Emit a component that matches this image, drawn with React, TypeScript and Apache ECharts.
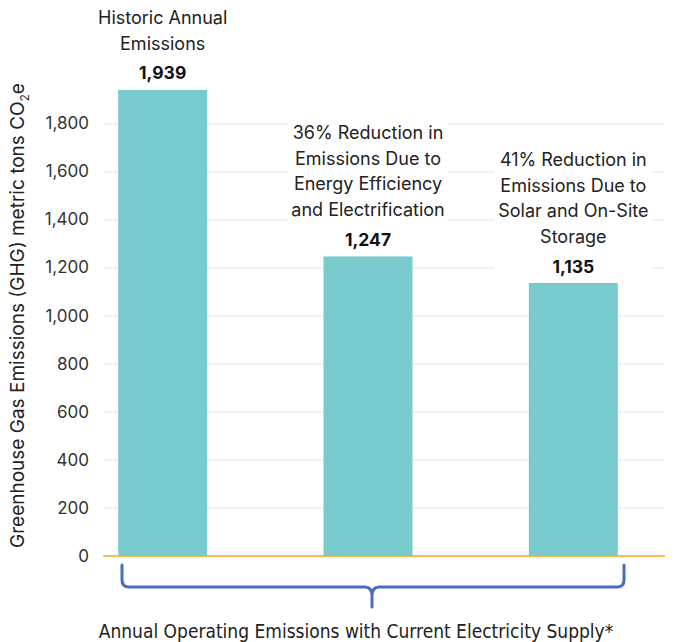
import React, { useEffect, useRef } from "react";
import * as echarts from "echarts";

const categories = ["Historic", "Efficiency", "Solar"];
const descriptions = [
  ["Historic Annual", "Emissions"],
  ["36% Reduction in", "Emissions Due to", "Energy Efficiency", "and Electrification"],
  ["41% Reduction in", "Emissions Due to", "Solar and On-Site", "Storage"],
];
const emissions = [1939, 1247, 1135];
const yTicks = [0, 200, 400, 600, 800, 1000, 1200, 1400, 1600, 1800];
const xTitle = "Annual Operating Emissions with Current Electricity Supply*";

const BRACKET =
  "M122 565 L122 580 Q122 587 129 587 L365 587 Q372 587 372 596 L372 607 M372 596 Q372 587 379 587 L617 587 Q624 587 624 580 L624 565";

let registered = false;

export default function App() {
  const ref = useRef<HTMLDivElement>(null);
  useEffect(() => {
    if (!ref.current) return;
    if (!registered) {
      echarts.graphic.registerShape("bracket", echarts.graphic.extendPath(BRACKET, {}));
      registered = true;
    }
    const chart = echarts.init(ref.current, null, { renderer: "svg" });
    const yMax = 2000;
    chart.setOption({
      animation: false,
      backgroundColor: "#ffffff",
      grid: { left: 100.7, right: 15.7, top: 75.3, bottom: 86.3 },
      xAxis: {
        type: "value",
        min: -0.2857,
        max: 2.443,
        axisLine: { show: true, onZero: false, lineStyle: { color: "#FDB94E", width: 2 } },
        axisTick: { show: false },
        axisLabel: { show: false },
        splitLine: { show: false },
      },
      yAxis: {
        type: "value",
        min: 0,
        max: yMax,
        interval: 200,
        axisLine: { show: false },
        axisTick: { show: false },
        axisLabel: {
          margin: 15,
          fontFamily: "Inter",
          fontSize: 17,
          color: "#333",
          showMaxLabel: false,
          formatter: (v: number) => (yTicks.includes(v) ? v.toLocaleString("en-US") : ""),
        },
        splitLine: { show: true, showMaxLine: false, lineStyle: { color: "#EDEDED", width: 1.5 } },
        name: "{a|Greenhouse Gas Emissions (GHG) metric tons CO}{s|2}{a|e}",
        nameLocation: "middle",
        nameGap: 74,
        nameTextStyle: {
          rich: {
            a: { fontFamily: "Inter", fontSize: 19, color: "#222" },
            s: { fontFamily: "Inter", fontSize: 12, color: "#222", padding: [13, 0, 0, 0] },
          },
        },
      },
      series: [
        {
          type: "bar",
          barWidth: 89,
          data: emissions.map((v, i) => ({ value: [i, v], name: categories[i] })),
          itemStyle: { color: "#79CACC" },
          label: {
            show: true,
            position: "top",
            distance: 0,
            backgroundColor: "#ffffff",
            padding: [2, 4, 0, 4],
            formatter: (p: any) => {
              const i = p.dataIndex;
              const lines = descriptions[i].map((l) => `{d|${l}}`).join("\n");
              return `${lines}\n{v|${emissions[i].toLocaleString("en-US")}}`;
            },
            rich: {
              d: { fontFamily: "Inter", fontSize: 18, color: "#222", lineHeight: 25.5, align: "center" },
              v: { fontFamily: "Inter", fontSize: 17.5, fontWeight: "bold", color: "#111", lineHeight: 34, align: "center" },
            },
          },
        },
      ],
      graphic: [
        {
          type: "bracket",
          x: 0,
          y: 0,
          style: { stroke: "#4A6CC2", lineWidth: 3, fill: "none", lineJoin: "round", lineCap: "round" },
          silent: true,
        },
        {
          type: "text",
          x: 356,
          y: 631,
          style: {
            text: xTitle,
            fontFamily: "'Liberation Sans Narrow', 'DejaVu Sans Condensed', sans-serif",
            fontSize: 19,
            fill: "#222",
            textAlign: "center",
            textVerticalAlign: "middle",
          },
        },
      ],
    });
    return () => chart.dispose();
  }, []);
  return (
    <div
      ref={ref}
      style={{ position: "fixed", left: 0, top: 0, width: 680, height: 642 }}
    />
  );
}
